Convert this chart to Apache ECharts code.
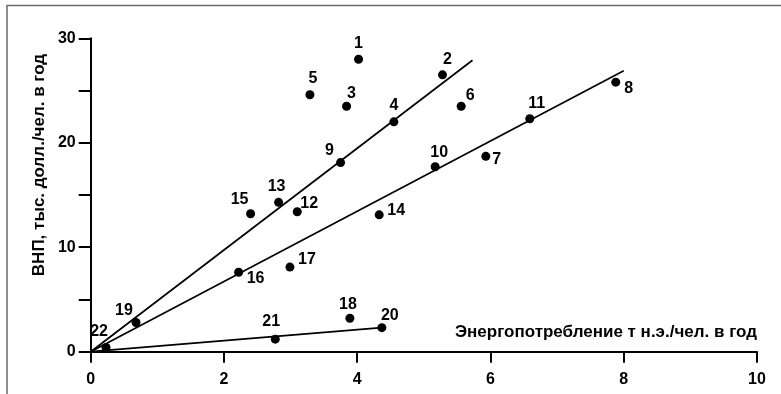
<!DOCTYPE html>
<html><head><meta charset="utf-8">
<script src="https://cdn.jsdelivr.net/npm/echarts@6/dist/echarts.min.js"></script>
<style>html,body{margin:0;padding:0;background:#fff}#c{width:781px;height:394px}</style>
</head><body><div id="c"></div>
<script>
// Data
const pointIds = ['1','2','3','4','5','6','7','8','9','10','11','12','13','14','15','16','17','18','19','20','21','22'];
const energy  = [4.02,5.28,3.84,4.55,3.29,5.56,5.93,7.88,3.75,5.17,6.59,3.10,2.82,4.33,2.40,2.22,2.99,3.89,0.68,4.37,2.77,0.23];
const gnp     = [28.0,26.5,23.5,22.0,24.6,23.5,18.7,25.8,18.1,17.7,22.3,13.4,14.3,13.1,13.2,7.6,8.1,3.2,2.8,2.3,1.2,0.4];
const lineAx = [0, 5.73], lineAy = [0, 27.9];
const lineBx = [0, 8.0],  lineBy = [0, 26.9];
const lineCx = [0, 4.37], lineCy = [0, 2.3];
const xTicks = [0,2,4,6,8,10];
const yTicks = [0,10,20,30];
const xTitle = 'Энергопотребление т н.э./чел. в год';
const yTitle = 'ВНП, тыс. долл./чел. в год';

// label placement relative to the dot centre (style, not data)
const labelOffsets = [[0,-16],[5,-15],[5,-13],[0,-16],[3,-16],[9,-11],[11,3],[13,6],[-11,-12],[4,-14],[7,-15],[12,-8],[-2,-16],[17,-4],[-11,-14],[17,6],[17,-7],[-2,-14],[-12,-12],[8,-12],[-4,-18],[-7,-16]];

const FONT = 'Liberation Sans';
const INK = '#000';
const DOT = 9;
const txt = {fontFamily: FONT, fontWeight: 'bold', fontSize: 16, color: INK};

const scatterData = pointIds.map((id, i) => ({
  value: [energy[i], gnp[i]],
  name: id,
  label: {
    show: true,
    position: [DOT / 2 + labelOffsets[i][0], DOT / 2 + labelOffsets[i][1]],
    align: 'center', verticalAlign: 'middle',
    formatter: id, ...txt
  }
}));
const mkLine = (xs, ys) => xs.map((x, i) => [x, ys[i]]);

const chart = echarts.init(document.getElementById('c'), null, {renderer: 'canvas'});
chart.setOption({
  animation: false,
  backgroundColor: '#fff',
  grid: {left: 90.7, right: 24, top: 38.3, bottom: 42.3, containLabel: false},
  xAxis: {
    type: 'value', min: 0, max: 10, interval: 2,
    axisLine: {show: true, onZero: false, lineStyle: {color: INK, width: 2}},
    axisTick: {show: true, length: 11, lineStyle: {color: INK, width: 2}},
    splitLine: {show: false},
    axisLabel: {margin: 20, ...txt, formatter: v => xTicks.includes(v) ? String(v) : ''}
  },
  yAxis: {
    type: 'value', min: 0, max: 30, interval: 5,
    axisLine: {show: true, onZero: false, lineStyle: {color: INK, width: 2}},
    axisTick: {show: true, length: 12, lineStyle: {color: INK, width: 2}},
    splitLine: {show: false},
    axisLabel: {margin: 15, ...txt, formatter: v => yTicks.includes(v) ? String(v) : ''}
  },
  graphic: [
    {type: 'polyline', shape: {points: [[7, 394], [7, 5.5], [781, 5.5]]}, style: {stroke: '#6a6a6a', lineWidth: 1.5, fill: null}},
    {type: 'text', x: 757, y: 332, style: {text: xTitle, textAlign: 'right', textVerticalAlign: 'middle', font: 'bold 17px "' + FONT + '"', fill: INK}},
    {type: 'text', x: 39, y: 165, rotation: Math.PI / 2, style: {text: yTitle, textAlign: 'center', textVerticalAlign: 'middle', font: 'bold 17px "' + FONT + '"', fill: INK}}
  ],
  series: [
    {type: 'line', data: mkLine(lineAx, lineAy), symbol: 'none', lineStyle: {color: INK, width: 1.7}, z: 2},
    {type: 'line', data: mkLine(lineBx, lineBy), symbol: 'none', lineStyle: {color: INK, width: 1.7}, z: 2},
    {type: 'line', data: mkLine(lineCx, lineCy), symbol: 'none', lineStyle: {color: INK, width: 1.7}, z: 2},
    {type: 'scatter', data: scatterData, symbolSize: DOT, itemStyle: {color: INK, opacity: 1}, z: 3}
  ]
});
</script></body></html>
